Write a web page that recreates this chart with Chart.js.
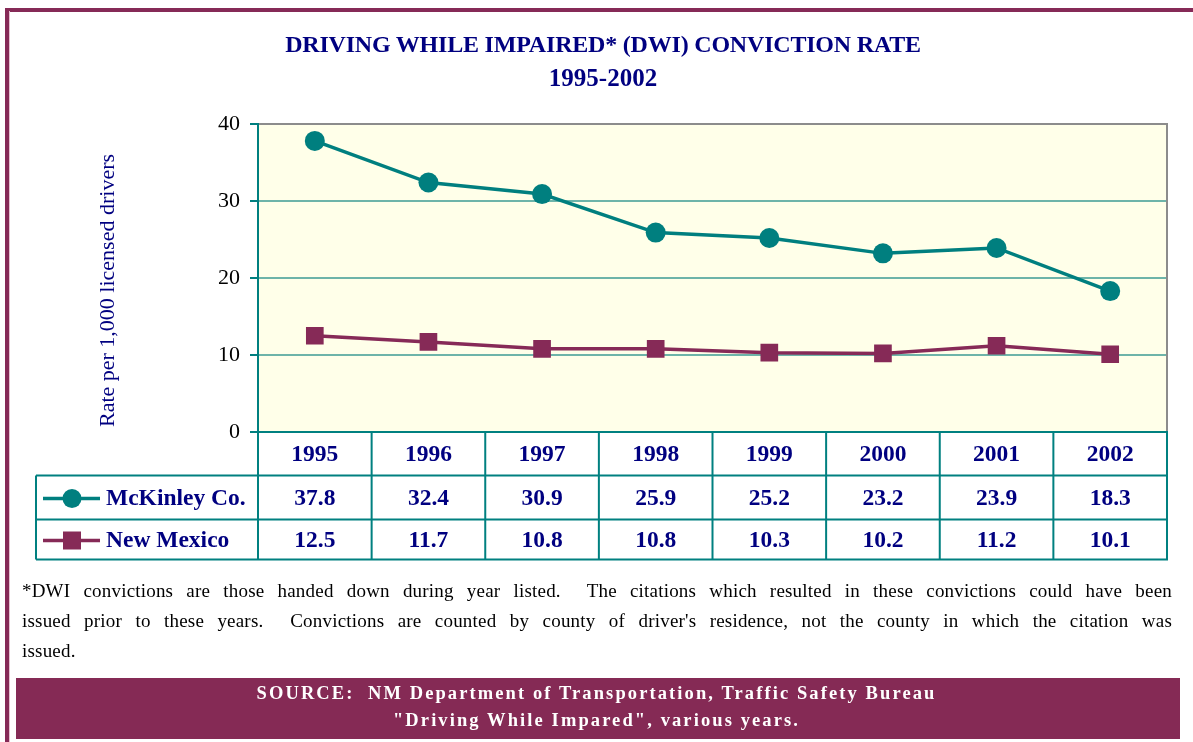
<!DOCTYPE html>
<html>
<head>
<meta charset="utf-8">
<title>DWI Conviction Rate 1995-2002</title>
<script src="https://cdn.jsdelivr.net/npm/chart.js@4/dist/chart.umd.min.js"></script>
<style>
  html, body { margin: 0; padding: 0; background: #ffffff; }
  #page { position: relative; width: 1193px; height: 742px; overflow: hidden; background: #ffffff;
          font-family: "Liberation Serif", "Times New Roman", serif; }
  #chart { position: absolute; left: 0; top: 0; }
  .frame-top { position: absolute; left: 5px; right: 0; top: 8px; height: 3.5px; background: #862a57; }
  .frame-left { position: absolute; left: 5px; top: 8px; bottom: 0; width: 4px; background: #862a57; }
  .frame-left-shade { position: absolute; left: 9px; top: 11px; bottom: 0; width: 1px; background: #e6bfd0; }
  .title { position: absolute; left: 103px; width: 1000px; text-align: center; color: #000080;
           font-weight: bold; white-space: nowrap; }
  .t1 { top: 27.5px; font-size: 24px; line-height: 33px; letter-spacing: -0.2px; }
  .t2 { top: 60.5px; font-size: 25px; line-height: 33px; }
  .note { position: absolute; left: 22px; width: 1150px; top: 575.5px; font-size: 19px; line-height: 30px;
          letter-spacing: 0.2px; color: #000; }
  .note div { white-space: nowrap; }
  .note .j { text-align: justify; text-align-last: justify; white-space: normal; }
  .source { position: absolute; left: 16px; width: 1164px; top: 678px; height: 61px; background: #852a55; }
  .source-text { position: absolute; left: 0; width: 1193px; top: 680px; text-align: center; color: #ffffff;
                 font-weight: bold; font-size: 18.5px; line-height: 27px; letter-spacing: 2.1px; white-space: nowrap; }
</style>
</head>
<body>
<div id="page">
  <canvas id="chart" width="1193" height="742"></canvas>
  <div class="frame-top"></div>
  <div class="frame-left"></div>
  <div class="frame-left-shade"></div>
  <div class="title t1">DRIVING WHILE IMPAIRED* (DWI) CONVICTION RATE</div>
  <div class="title t2">1995-2002</div>
  <div class="note">
    <div class="j">*DWI convictions are those handed down during year listed.&nbsp; The citations which resulted in these convictions could have been</div>
    <div class="j">issued prior to these years.&nbsp; Convictions are counted by county of driver's residence, not the county in which the citation was</div>
    <div>issued.</div>
  </div>
  <div class="source"></div>
  <div class="source-text">SOURCE:&nbsp; NM Department of Transportation, Traffic Safety Bureau<br>"Driving While Impared", various years.</div>
</div>
<script>
// Years shown on the category axis and in the table header
const years = ['1995', '1996', '1997', '1998', '1999', '2000', '2001', '2002'];
// Convictions per 1,000 licensed drivers
const mckinleyRates = [37.8, 32.4, 30.9, 25.9, 25.2, 23.2, 23.9, 18.3];
const newMexicoRates = [12.5, 11.7, 10.8, 10.8, 10.3, 10.2, 11.2, 10.1];
const seriesNames = ['McKinley Co.', 'New Mexico'];
const yTicks = [0, 10, 20, 30, 40];
const yAxisTitle = 'Rate per 1,000 licensed drivers';

const TEAL = '#007f7f';
const MAROON = '#862a57';
const NAVY = '#000080';
const SERIF = '"Liberation Serif", "Times New Roman", serif';

// Cream plot background and grey right-hand frame of the plot
const plotFrame = {
  id: 'plotFrame',
  beforeDraw(chart) {
    const { ctx, chartArea: a } = chart;
    ctx.save();
    ctx.fillStyle = '#ffffe9';
    ctx.fillRect(a.left, a.top, a.right - a.left, a.bottom - a.top);
    ctx.restore();
  },
  beforeDatasetsDraw(chart) {
    const { ctx, chartArea: a } = chart;
    ctx.save();
    ctx.strokeStyle = '#8c8c8c';
    ctx.lineWidth = 2;
    ctx.beginPath();
    ctx.moveTo(a.right, a.top - 1);
    ctx.lineTo(a.right, a.bottom);
    ctx.stroke();
    ctx.restore();
  }
};

// Data table under the plot, columns aligned with the category scale
const dataTable = {
  id: 'dataTable',
  afterDraw(chart) {
    const { ctx, chartArea: a } = chart;
    const xs = chart.scales.x;
    const colW = xs.getPixelForValue(1) - xs.getPixelForValue(0);
    const rowTop = a.bottom;
    const rowLines = [rowTop, rowTop + 43.5, rowTop + 87.5, rowTop + 127.5];
    const legendLeft = 36;

    ctx.save();
    ctx.strokeStyle = '#008080';
    ctx.lineWidth = 2;
    ctx.beginPath();
    // horizontal rules
    ctx.moveTo(a.left, rowLines[0]); ctx.lineTo(a.right + 1, rowLines[0]);
    for (let r = 1; r < rowLines.length; r++) {
      ctx.moveTo(legendLeft, rowLines[r]); ctx.lineTo(a.right + 1, rowLines[r]);
    }
    // vertical rules
    for (let i = 0; i <= years.length; i++) {
      const x = xs.getPixelForValue(0) - colW / 2 + i * colW;
      ctx.moveTo(x, rowLines[0]); ctx.lineTo(x, rowLines[3]);
    }
    ctx.moveTo(legendLeft, rowLines[1]); ctx.lineTo(legendLeft, rowLines[3]);
    ctx.stroke();

    // header and values
    ctx.fillStyle = NAVY;
    ctx.font = 'bold 23.5px ' + SERIF;
    ctx.textAlign = 'center';
    ctx.textBaseline = 'middle';
    const rows = [years, mckinleyRates.map(v => v.toFixed(1)), newMexicoRates.map(v => v.toFixed(1))];
    rows.forEach((row, r) => {
      const cy = (rowLines[r] + rowLines[r + 1]) / 2 + 1;
      row.forEach((txt, i) => ctx.fillText(txt, xs.getPixelForValue(i), cy));
    });

    // legend keys
    const keyX0 = 43, keyX1 = 100, keyCx = 72;
    chart.data.datasets.forEach((ds, k) => {
      const cy = (rowLines[k + 1] + rowLines[k + 2]) / 2 + 1;
      ctx.strokeStyle = ds.borderColor;
      ctx.lineWidth = 3.5;
      ctx.beginPath();
      ctx.moveTo(keyX0, cy); ctx.lineTo(keyX1, cy);
      ctx.stroke();
      ctx.fillStyle = ds.borderColor;
      if (ds.pointStyle === 'rect') {
        ctx.fillRect(keyCx - 9, cy - 9, 18, 18);
      } else {
        ctx.beginPath();
        ctx.arc(keyCx, cy, 9.5, 0, Math.PI * 2);
        ctx.fill();
      }
      ctx.fillStyle = NAVY;
      ctx.textAlign = 'left';
      ctx.fillText(seriesNames[k], 106, cy);
    });

    // rotated axis title
    ctx.translate(108, (a.top + a.bottom) / 2 + 12.5);
    ctx.rotate(-Math.PI / 2);
    ctx.font = '22px ' + SERIF;
    ctx.fillStyle = NAVY;
    ctx.textAlign = 'center';
    ctx.textBaseline = 'middle';
    ctx.fillText(yAxisTitle, 0, 0);
    ctx.restore();
  }
};

new Chart(document.getElementById('chart'), {
  type: 'line',
  data: {
    labels: years,
    datasets: [
      {
        label: seriesNames[0],
        data: mckinleyRates,
        borderColor: TEAL,
        backgroundColor: TEAL,
        borderWidth: 3.5,
        pointStyle: 'circle',
        pointRadius: 10,
        pointBorderWidth: 0,
        pointBackgroundColor: TEAL,
        tension: 0
      },
      {
        label: seriesNames[1],
        data: newMexicoRates,
        borderColor: MAROON,
        backgroundColor: MAROON,
        borderWidth: 3.5,
        pointStyle: 'rect',
        pointRadius: 12.5,
        pointBorderWidth: 0,
        pointBackgroundColor: MAROON,
        tension: 0
      }
    ]
  },
  options: {
    responsive: false,
    animation: false,
    events: [],
    layout: { padding: { left: 0, right: 26, top: 124, bottom: 310 } },
    plugins: { legend: { display: false }, title: { display: false }, tooltip: { enabled: false } },
    scales: {
      x: {
        type: 'category',
        offset: true,
        display: false
      },
      y: {
        min: 0,
        max: 40,
        afterFit(scale) { scale.width = 258; },
        afterBuildTicks(scale) { scale.ticks = yTicks.map(v => ({ value: v })); },
        border: { display: true, color: TEAL, width: 2 },
        grid: {
          lineWidth: 2,
          tickLength: 8,
          tickColor: TEAL,
          color: ctx => {
            const v = ctx.tick ? ctx.tick.value : null;
            if (v === 40) return '#8c8c8c';
            if (v === 0) return TEAL;
            return '#6db4a9';
          }
        },
        ticks: {
          color: '#000000',
          padding: 10,
          font: { family: SERIF, size: 22 },
          callback: v => String(v)
        }
      }
    }
  },
  plugins: [plotFrame, dataTable]
});
</script>
</body>
</html>
